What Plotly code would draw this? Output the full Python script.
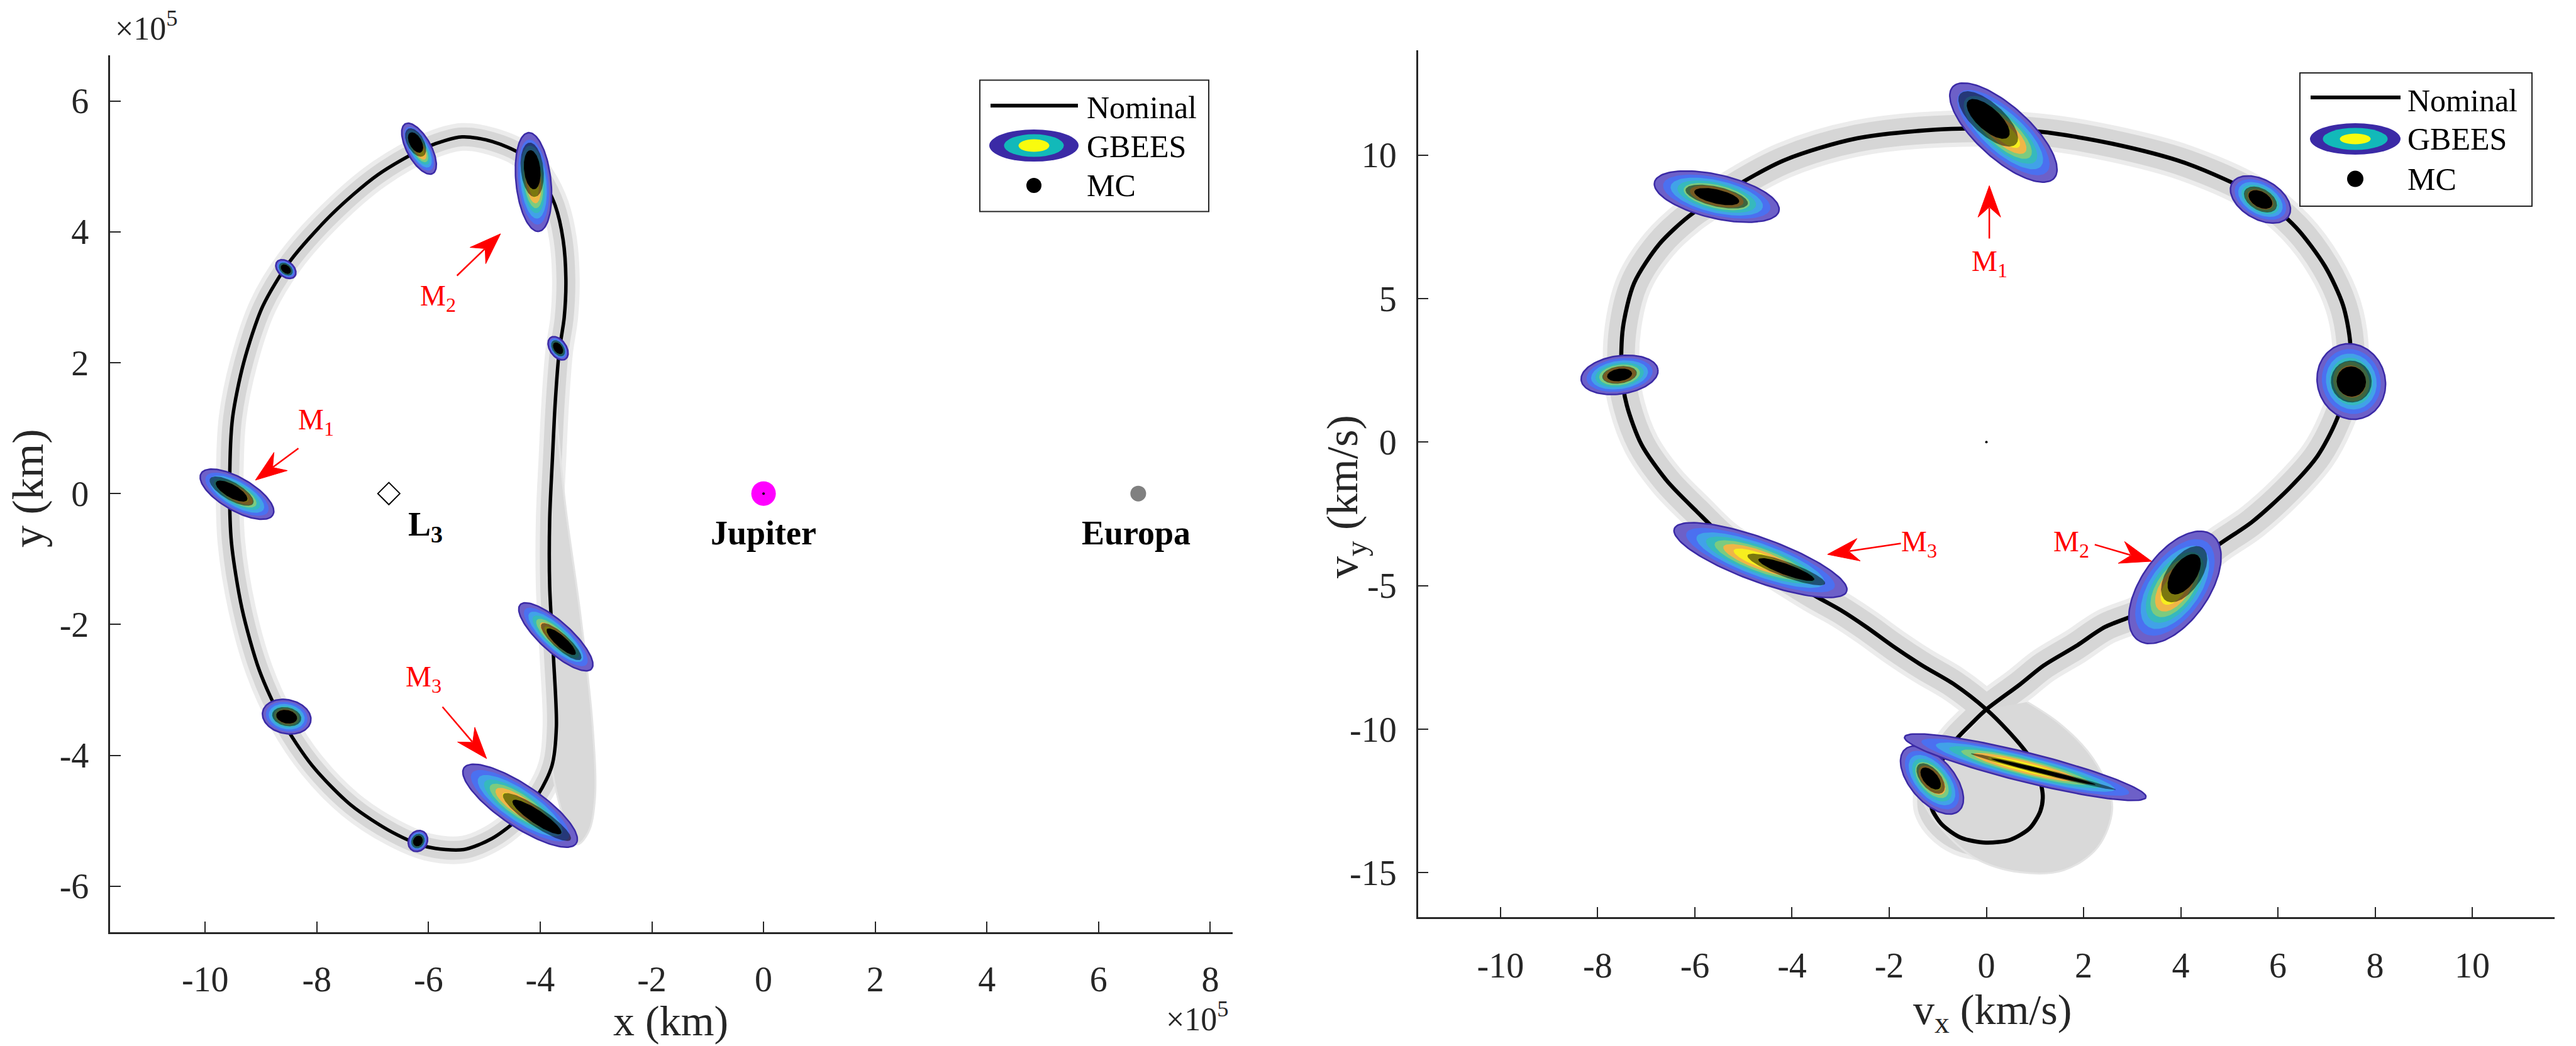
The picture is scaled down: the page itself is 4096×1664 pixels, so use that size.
import numpy as np
import plotly.graph_objects as go

W, H = 4096, 1664
FONT = "Liberation Serif"
AX = "#262626"

# ---------------- Left panel : position (units of 1e5 km) ----------------
pos_nom_x = [-5.40, -4.86, -4.31, -3.97, -3.73, -3.59, -3.54, -3.57, -3.66, -3.73, -3.78, -3.83, -3.83,
             -3.76, -3.71, -3.79, -4.03, -4.45, -4.86, -5.37, -6.02, -6.64, -7.39, -8.08, -8.62, -9.03,
             -9.34, -9.53, -9.56, -9.51, -9.31, -8.97, -8.49, -7.73, -6.91, -6.02, -5.40]
pos_nom_y = [5.45, 5.38, 5.17, 4.82, 4.40, 3.88, 3.28, 2.69, 2.17, 1.40, 0.55, -0.39, -1.42,
             -2.53, -3.56, -4.16, -4.59, -5.01, -5.27, -5.44, -5.40, -5.18, -4.76, -4.16, -3.47, -2.70,
             -1.76, -0.74, 0.21, 1.15, 2.00, 2.86, 3.54, 4.27, 4.87, 5.30, 5.45]
pos_lobe_x = [-3.73, -3.555, -3.28, -3.06, -3.02, -3.14, -3.35, -3.79, -3.71, -3.76, -3.83, -3.83, -3.78]
pos_lobe_y = [1.40, -0.14, -1.85, -3.56, -4.67, -5.18, -5.36, -4.16, -3.56, -2.53, -1.42, -0.39, 0.55]

pos_ell_cx = [-9.43, -8.555, -6.17, -4.12, -3.68, -3.72, -4.36, -8.54, -6.19]
pos_ell_cy = [-0.01, 3.43, 5.27, 4.76, 2.22, -2.19, -4.77, -3.41, -5.31]
pos_ell_a = [0.742, 0.205, 0.508, 0.889, 0.234, 0.859, 1.211, 0.439, 0.195]
pos_ell_b = [0.293, 0.137, 0.215, 0.3125, 0.146, 0.273, 0.371, 0.303, 0.166]
pos_ell_ang = [-30, -40, -61, -84, -55, -42, -34, -12, 60]
pos_mc_shift = [-0.15, 0.0, -0.25, -0.25, 0.0, 0.15, 0.3, 0.0, 0.0]
pos_mc_sa = [0.6, 0.7, 0.55, 0.55, 0.7, 0.55, 0.6, 0.6, 0.7]
pos_mc_sb = [0.55, 0.7, 0.7, 0.65, 0.7, 0.5, 0.45, 0.55, 0.7]

body_x = [-6.71, 0.0, 6.71]
body_y = [0.0, 0.0, 0.0]

pos_arrow_tail_x = [-8.33, -5.49, -5.75]
pos_arrow_tail_y = [0.69, 3.33, -3.26]
pos_arrow_head_x = [-9.10, -4.71, -4.96]
pos_arrow_head_y = [0.205, 3.97, -4.05]
pos_label_x = [-8.01, -5.83, -6.09]
pos_label_y = [1.10, 2.99, -2.83]

# ---------------- Right panel : velocity (km/s) ----------------
vel_nom_x = [-0.71, 1.10, 2.60, 4.11, 5.61, 6.37, 6.97, 7.34, 7.49, 7.45, 7.19, 6.82, 6.22, 5.46, 4.71,
             3.88, 3.36, 2.44, 1.84, 1.18, 0.69, 0.0, -0.31, -0.62, -0.92, -1.09, -1.14, -1.12, -0.92,
             -0.52, -0.01, 0.49, 0.89, 1.11, 1.16, 1.06, 0.84, 0.44, 0.0, -0.66, -1.32, -1.92, -2.47,
             -3.0, -3.57, -4.70, -5.37, -5.97, -6.58, -7.10, -7.40, -7.51, -7.48, -7.25, -6.73, -6.12,
             -5.52, -4.17, -2.66, -0.71]
vel_nom_y = [10.91, 10.81, 10.39, 9.71, 8.55, 7.48, 6.12, 4.77, 3.41, 2.05, 0.70, -0.47, -1.63, -2.79, -3.66,
             -4.92, -5.79, -6.44, -7.11, -7.78, -8.44, -9.31, -9.81, -10.35, -11.11, -11.78, -12.45, -12.78, -13.31,
             -13.78, -13.95, -13.85, -13.45, -12.85, -12.31, -11.51, -10.85, -10.05, -9.31, -8.44, -7.78, -7.11, -6.44,
             -5.85, -5.31, -4.11, -3.37, -2.40, -1.34, -0.08, 1.28, 2.44, 3.99, 5.54, 6.90, 7.87,
             8.55, 9.81, 10.58, 10.91]
vel_lobe_x = [0.0, -0.62, -1.47, -1.32, -0.82, -0.21, 0.69, 1.59, 2.29, 2.59, 2.44, 2.09, 1.49, 0.84]
vel_lobe_y = [-9.31, -10.35, -10.58, -12.45, -13.65, -14.51, -14.98, -14.91, -14.11, -12.78, -11.78, -10.78, -9.78, -9.05]

vel_ell_cx = [0.35, -5.55, 5.64, -7.55, 7.51, -4.65, 3.88, -1.12, 0.80]
vel_ell_cy = [10.78, 8.55, 8.45, 2.34, 2.11, -4.11, -5.06, -11.77, -11.32]
vel_ell_a = [1.404, 1.314, 0.674, 0.797, 0.786, 1.887, 1.325, 0.842, 2.56]
vel_ell_b = [0.539, 0.449, 0.404, 0.393, 0.696, 0.449, 0.696, 0.449, 0.303]
vel_ell_ang = [-42, -13, -30, 8, -72, -20, 55, -49, -14]
vel_mc_shift = [-0.3, 0.0, 0.0, 0.0, 0.0, 0.3, 0.25, -0.05, 0.15]
vel_mc_sa = [0.55, 0.5, 0.55, 0.45, 0.55, 0.45, 0.5, 0.45, 0.6]
vel_mc_sb = [0.6, 0.45, 0.55, 0.45, 0.6, 0.35, 0.5, 0.45, 0.2]

vel_arrow_tail_x = [0.06, 2.23, -1.76]
vel_arrow_tail_y = [7.09, -3.57, -3.53]
vel_arrow_head_x = [0.06, 3.40, -3.27]
vel_arrow_head_y = [8.93, -4.15, -3.91]
vel_label_x = [0.06, 1.75, -1.38]
vel_label_y = [6.22, -3.53, -3.53]

m_labels = ["M<sub>1</sub>", "M<sub>2</sub>", "M<sub>3</sub>"]

pos_xticks = [-10, -8, -6, -4, -2, 0, 2, 4, 6, 8]
pos_yticks = [-6, -4, -2, 0, 2, 4, 6]
vel_xticks = [-10, -8, -6, -4, -2, 0, 2, 4, 6, 8, 10]
vel_yticks = [-15, -10, -5, 0, 5, 10]

# ---------------- geometry ----------------
L_dx, L_dy = [0.04279, 0.4785], [0.1090, 0.9473]
R_dx, R_dy = [0.55044, 0.99180], [0.12302, 0.95204]
L_xr, L_yr = [-11.7, 8.4], [-6.7, 6.7]
R_xr, R_yr = [-11.7, 11.7], [-16.55, 13.65]

def scale(dx, dy, xr, yr):
    return (dx[1] - dx[0]) * W / (xr[1] - xr[0]), (dy[1] - dy[0]) * H / (yr[1] - yr[0])

pxx_L, pxy_L = scale(L_dx, L_dy, L_xr, L_yr)
pxx_R, pxy_R = scale(R_dx, R_dy, R_xr, R_yr)

LEVEL_S = [1.0, 0.86, 0.74, 0.63, 0.53, 0.43, 0.31]
LEVEL_C = ["#6d60c8", "#4b70f0", "#41a2e8", "#36b9bd", "#7ccb7f", "#efb647", "#f7ee1e"]

def ell_pts(cx, cy, a, b, ang, pxx, pxy, s=1.0, shift=0.0, sb=None, n=120):
    t = np.linspace(0, 2 * np.pi, n)
    th = np.deg2rad(ang)
    A = a * pxx * s
    B = b * pxx * (s if sb is None else sb)
    u = A * np.cos(t) + shift * a * pxx
    v = B * np.sin(t)
    X = u * np.cos(th) - v * np.sin(th)
    Y = u * np.sin(th) + v * np.cos(th)
    return cx + X / pxx, cy + Y / pxy

fig = go.Figure()

def add_panel(xa, ya, nx, ny, lx, ly, cx, cy, ea, eb, eang, msh, msa, msb, pxx, pxy, bw, lw):
    fig.add_trace(go.Scatter(x=nx, y=ny, mode="lines", line=dict(color="#ececec", width=bw + 14, shape="spline"),
                             xaxis=xa, yaxis=ya, hoverinfo="skip"))
    fig.add_trace(go.Scatter(x=nx, y=ny, mode="lines", line=dict(color="#d6d6d6", width=bw, shape="spline"),
                             xaxis=xa, yaxis=ya, hoverinfo="skip"))
    fig.add_trace(go.Scatter(x=lx, y=ly, mode="lines", fill="toself", fillcolor="#d9d9d9",
                             line=dict(color="#e4e4e4", width=3, shape="spline"), xaxis=xa, yaxis=ya, hoverinfo="skip"))
    fig.add_trace(go.Scatter(x=nx, y=ny, mode="lines", line=dict(color="black", width=lw, shape="spline", smoothing=0.8),
                             xaxis=xa, yaxis=ya, hoverinfo="skip"))
    for i in range(len(cx)):
        for k, (s, c) in enumerate(zip(LEVEL_S, LEVEL_C)):
            ex, ey = ell_pts(cx[i], cy[i], ea[i], eb[i], eang[i], pxx, pxy, s=s)
            fig.add_trace(go.Scatter(x=ex, y=ey, mode="lines", fill="toself", fillcolor=c,
                                     line=dict(color="#3b2aa6" if k == 0 else c, width=2.5 if k == 0 else 0),
                                     xaxis=xa, yaxis=ya, hoverinfo="skip"))
        ex, ey = ell_pts(cx[i], cy[i], ea[i], eb[i], eang[i], pxx, pxy, s=msa[i], sb=msb[i], shift=msh[i])
        fig.add_trace(go.Scatter(x=ex, y=ey, mode="lines", fill="toself", fillcolor="rgba(0,0,0,0.5)",
                                 line=dict(width=0), xaxis=xa, yaxis=ya, hoverinfo="skip"))
        ex, ey = ell_pts(cx[i], cy[i], ea[i], eb[i], eang[i], pxx, pxy, s=msa[i] * 0.72, sb=msb[i] * 0.72, shift=msh[i])
        fig.add_trace(go.Scatter(x=ex, y=ey, mode="lines", fill="toself", fillcolor="black",
                                 line=dict(width=0), xaxis=xa, yaxis=ya, hoverinfo="skip"))

add_panel("x", "y", pos_nom_x, pos_nom_y, pos_lobe_x, pos_lobe_y, pos_ell_cx, pos_ell_cy, pos_ell_a, pos_ell_b,
          pos_ell_ang, pos_mc_shift, pos_mc_sa, pos_mc_sb, pxx_L, pxy_L, 30, 5.5)
add_panel("x2", "y2", vel_nom_x, vel_nom_y, vel_lobe_x, vel_lobe_y, vel_ell_cx, vel_ell_cy, vel_ell_a, vel_ell_b,
          vel_ell_ang, vel_mc_shift, vel_mc_sa, vel_mc_sb, pxx_R, pxy_R, 44, 6.5)

# bodies
fig.add_trace(go.Scatter(x=[body_x[0]], y=[body_y[0]], mode="markers",
                         marker=dict(symbol="diamond-open", size=27, color="black", line=dict(width=2, color="black")),
                         xaxis="x", yaxis="y", hoverinfo="skip"))
fig.add_trace(go.Scatter(x=[body_x[1]], y=[body_y[1]], mode="markers",
                         marker=dict(symbol="circle", size=39, color="#ff00ff"), xaxis="x", yaxis="y", hoverinfo="skip"))
fig.add_trace(go.Scatter(x=[body_x[1]], y=[body_y[1]], mode="markers",
                         marker=dict(symbol="circle", size=4, color="black"), xaxis="x", yaxis="y", hoverinfo="skip"))
fig.add_trace(go.Scatter(x=[body_x[2]], y=[body_y[2]], mode="markers",
                         marker=dict(symbol="circle", size=25, color="#808080"), xaxis="x", yaxis="y", hoverinfo="skip"))
fig.add_trace(go.Scatter(x=[0], y=[0], mode="markers", marker=dict(symbol="circle", size=4, color="black"),
                         xaxis="x2", yaxis="y2", hoverinfo="skip"))

# arrows
def add_arrows(xa, ya, tx, ty, hx, hy, pxx, pxy):
    L, hw = 50.0, 18.0
    for i in range(len(tx)):
        dx = (hx[i] - tx[i]) * pxx
        dy = (hy[i] - ty[i]) * pxy
        d = np.hypot(dx, dy)
        ux, uy = dx / d, dy / d
        nxv, nyv = -uy, ux
        pts = [(0, 0), (-L * ux + hw * nxv, -L * uy + hw * nyv), (-0.68 * L * ux, -0.68 * L * uy),
               (-L * ux - hw * nxv, -L * uy - hw * nyv), (0, 0)]
        ax_ = [hx[i] + p[0] / pxx for p in pts]
        ay_ = [hy[i] + p[1] / pxy for p in pts]
        sx = [tx[i], hx[i] - 0.7 * L * ux / pxx]
        sy = [ty[i], hy[i] - 0.7 * L * uy / pxy]
        fig.add_trace(go.Scatter(x=sx, y=sy, mode="lines", line=dict(color="red", width=2.5),
                                 xaxis=xa, yaxis=ya, hoverinfo="skip"))
        fig.add_trace(go.Scatter(x=ax_, y=ay_, mode="lines", fill="toself", fillcolor="red",
                                 line=dict(color="red", width=1), xaxis=xa, yaxis=ya, hoverinfo="skip"))

add_arrows("x", "y", pos_arrow_tail_x, pos_arrow_tail_y, pos_arrow_head_x, pos_arrow_head_y, pxx_L, pxy_L)
add_arrows("x2", "y2", vel_arrow_tail_x, vel_arrow_tail_y, vel_arrow_head_x, vel_arrow_head_y, pxx_R, pxy_R)

ann = []
for i in range(3):
    ann.append(dict(x=pos_label_x[i], y=pos_label_y[i], xref="x", yref="y", text=m_labels[i], showarrow=False,
                    font=dict(family=FONT, size=46, color="red")))
    ann.append(dict(x=vel_label_x[i], y=vel_label_y[i], xref="x2", yref="y2", text=m_labels[i], showarrow=False,
                    font=dict(family=FONT, size=46, color="red")))

ann.append(dict(x=-6.05, y=-0.5, xref="x", yref="y", text="<b>L<sub>3</sub></b>", showarrow=False,
                font=dict(family=FONT, size=54, color="black")))
ann.append(dict(x=0.0, y=-0.6, xref="x", yref="y", text="<b>Jupiter</b>", showarrow=False,
                font=dict(family=FONT, size=54, color="black")))
ann.append(dict(x=6.67, y=-0.6, xref="x", yref="y", text="<b>Europa</b>", showarrow=False,
                font=dict(family=FONT, size=54, color="black")))

def P(px, py):
    return px / W, 1 - py / H

def pann(px, py, text, size, xanchor="center", yanchor="middle", angle=0, color=AX):
    x, y = P(px, py)
    ann.append(dict(x=x, y=y, xref="paper", yref="paper", text=text, showarrow=False, xanchor=xanchor,
                    yanchor=yanchor, textangle=angle, font=dict(family=FONT, size=size, color=color)))

pann(1066, 1624, "x (km)", 68)
pann(44, 777, "y (km)", 70, angle=-90)
pann(3168, 1610, "v<sub>x</sub> (km/s)", 68)
pann(2140, 790, "v<sub>y</sub> (km/s)", 70, angle=-90)
pann(181, 76, "×10<sup>5</sup>", 52, xanchor="left", yanchor="bottom")
pann(1956, 1652, "×10<sup>5</sup>", 52, xanchor="right", yanchor="bottom")

shapes = []

def legend(x0, y0, x1, y1, line_x0, line_x1, ly, gc, ow, oh, cw, ch, yw, yh, mcy, md, tx, tys):
    a, b = P(x0, y0)
    c, d = P(x1, y1)
    shapes.append(dict(type="rect", xref="paper", yref="paper", x0=a, y0=d, x1=c, y1=b,
                       line=dict(color=AX, width=2), fillcolor="white", layer="above"))
    a, b = P(line_x0, ly)
    c, _ = P(line_x1, ly)
    shapes.append(dict(type="line", xref="paper", yref="paper", x0=a, y0=b, x1=c, y1=b,
                       line=dict(color="black", width=6), layer="above"))
    for (w, h, col) in [(ow, oh, "#3b2aa6"), (cw, ch, "#12b9b9"), (yw, yh, "#f9fb0e")]:
        a, b = P(gc[0] - w / 2, gc[1] - h / 2)
        c, d = P(gc[0] + w / 2, gc[1] + h / 2)
        shapes.append(dict(type="circle", xref="paper", yref="paper", x0=a, y0=d, x1=c, y1=b,
                           line=dict(width=0), fillcolor=col, layer="above"))
    a, b = P(gc[0] - md / 2, mcy - md / 2)
    c, d = P(gc[0] + md / 2, mcy + md / 2)
    shapes.append(dict(type="circle", xref="paper", yref="paper", x0=a, y0=d, x1=c, y1=b,
                       line=dict(width=0), fillcolor="black", layer="above"))
    for t, yy in zip(["Nominal", "GBEES", "MC"], tys):
        pann(tx, yy, t, 50, xanchor="left", color="black")

legend(1558, 127.5, 1922, 336.6, 1575, 1714, 168, (1644, 231.6), 142, 51, 95, 36, 49, 20, 295, 24, 1726,
       [171, 233, 295])
legend(3657, 116, 4026, 328, 3674, 3817, 155, (3745, 221), 144, 50, 103, 35, 49, 17, 284.6, 26, 3826,
       [160.5, 221, 284.6])

axis_common = dict(showline=True, linecolor=AX, linewidth=2.5, ticks="inside", ticklen=17, tickwidth=2,
                   tickcolor=AX, showgrid=False, zeroline=False, mirror=False,
                   tickfont=dict(family=FONT, size=56, color=AX))

fig.update_layout(
    width=W, height=H, margin=dict(l=0, r=0, t=0, b=0), paper_bgcolor="white", plot_bgcolor="white",
    showlegend=False,
    xaxis=dict(domain=L_dx, range=L_xr, anchor="y", tickvals=pos_xticks, ticktext=[str(v) for v in pos_xticks],
               ticklabelstandoff=24, **axis_common),
    yaxis=dict(domain=L_dy, range=L_yr, anchor="x", tickvals=pos_yticks, ticktext=[str(v) for v in pos_yticks],
               ticklabelstandoff=20, **axis_common),
    xaxis2=dict(domain=R_dx, range=R_xr, anchor="y2", tickvals=vel_xticks, ticktext=[str(v) for v in vel_xticks],
                ticklabelstandoff=26, **axis_common),
    yaxis2=dict(domain=R_dy, range=R_yr, anchor="x2", tickvals=vel_yticks, ticktext=[str(v) for v in vel_yticks],
                ticklabelstandoff=20, **axis_common),
    annotations=ann, shapes=shapes,
)

fig.write_html("out.html")
